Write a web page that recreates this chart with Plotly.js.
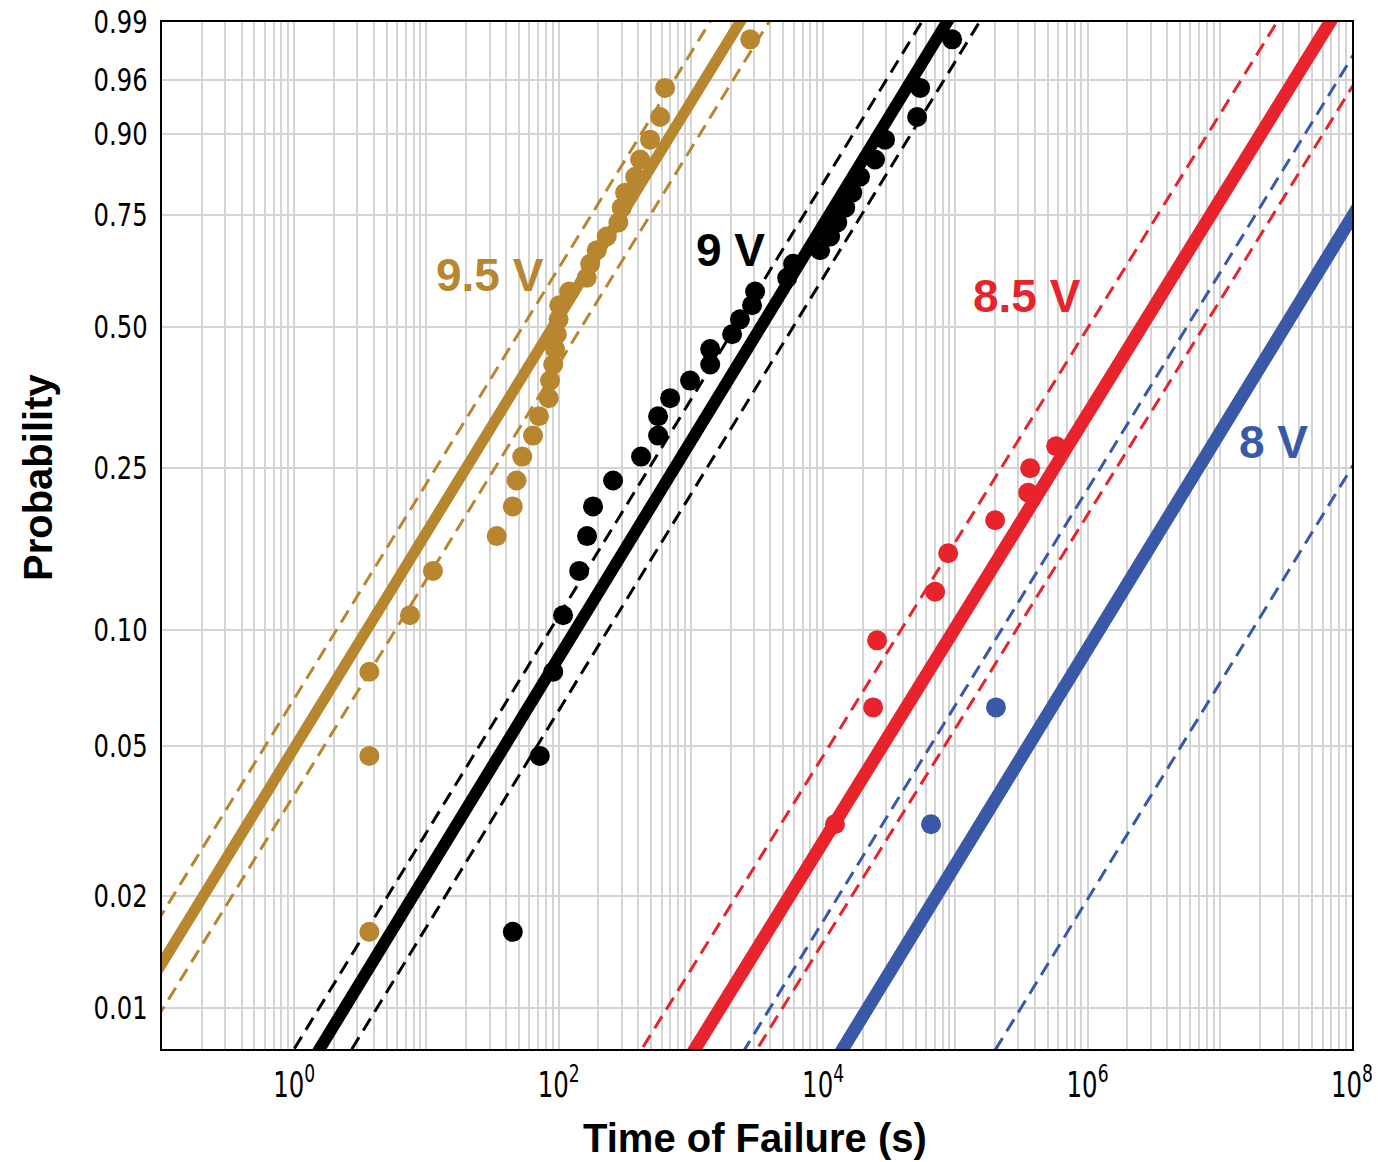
<!DOCTYPE html>
<html>
<head>
<meta charset="utf-8">
<script src="https://cdn.plot.ly/plotly-3.0.1.min.js"></script>
<style>
  html, body { margin: 0; padding: 0; background: #ffffff; }
  #chart { width: 1378px; height: 1162px; }
</style>
</head>
<body>
<div id="chart"></div>
<script>
// ---------------- DATA ----------------
const voltages = ['9.5 V', '9 V', '8.5 V', '8 V'];

// 9.5 V failures: time (s) and cumulative probability
const time95 = [3.7, 3.7, 3.7, 7.5, 11.2, 34, 45, 48, 53, 64, 71, 84, 86, 91, 94, 97,
                100, 101, 120, 163, 173, 194, 231, 283, 300, 318, 379, 413, 491, 585, 638, 2810];
const prob95 = [0.016, 0.047, 0.078, 0.109, 0.141, 0.172, 0.203, 0.234, 0.266, 0.297, 0.328, 0.359,
                0.391, 0.422, 0.453, 0.484, 0.516, 0.547, 0.578, 0.609, 0.641, 0.672, 0.703, 0.734,
                0.766, 0.797, 0.828, 0.859, 0.891, 0.922, 0.953, 0.984];

// 9 V failures
const time90 = [45, 72, 91, 108, 143, 164, 182, 258, 420, 565, 565, 697, 986, 1400, 1400, 2050,
                2350, 2900, 3060, 5350, 5930, 9490, 11300, 12800, 14700, 16600, 19000, 24700,
                29400, 51400, 54200, 94600];
const prob90 = [0.016, 0.047, 0.078, 0.109, 0.141, 0.172, 0.203, 0.234, 0.266, 0.297, 0.328, 0.359,
                0.391, 0.422, 0.453, 0.484, 0.516, 0.547, 0.578, 0.609, 0.641, 0.672, 0.703, 0.734,
                0.766, 0.797, 0.828, 0.859, 0.891, 0.922, 0.953, 0.984];

// 8.5 V failures
const time85 = [12300, 23900, 25600, 70400, 88300, 200000, 356000, 368000, 579000];
const prob85 = [0.031, 0.063, 0.094, 0.125, 0.156, 0.188, 0.219, 0.250, 0.281];

// 8 V failures
const time80 = [65500, 203000];
const prob80 = [0.031, 0.063];

// Weibull fits: shape (beta) and scale (eta, s); bounds share the shape
const fitShape     = [0.581, 0.584, 0.577, 0.583];
const fitScale     = [170, 6340, 4.84e6, 5.82e7];
const lowerScale   = [100.5, 4074, 1.92e6, 1.06e7];
const upperScale   = [280.5, 11140, 1.43e7, 8.38e8];

// Axis ticks
const timeTickVals   = [1, 1e2, 1e4, 1e6, 1e8];
const timeTickLabels = ['10<sup>0</sup>', '10<sup>2</sup>', '10<sup>4</sup>', '10<sup>6</sup>', '10<sup>8</sup>'];
const probTickVals   = [0.01, 0.02, 0.05, 0.10, 0.25, 0.50, 0.75, 0.90, 0.96, 0.99];
const probTickLabels = ['0.01', '0.02', '0.05', '0.10', '0.25', '0.50', '0.75', '0.90', '0.96', '0.99'];

// ---------------- STYLE ----------------
const seriesColors = ['#B8862F', '#000000', '#E8232B', '#3A58A8'];
const fitWidths = [11, 12, 13, 13];
const tickFont = 'Liberation Sans Narrow, DejaVu Sans Condensed, Liberation Sans, Arial, sans-serif';
const boldFont = 'Liberation Sans, Arial, Helvetica, sans-serif';
const gridColor = '#d4d4d4';

// ---------------- HELPERS ----------------
function weib(p) { return Math.log(-Math.log(1 - p)); }
function fitLine(beta, eta) {
  const t = [Math.pow(10, -1.3), Math.pow(10, 8.3)];
  return { x: t, y: t.map(v => beta * (Math.log(v) - Math.log(eta))) };
}

const times = [time95, time90, time85, time80];
const probs = [prob95, prob90, prob85, prob80];

const traces = [];
voltages.forEach((v, i) => {
  [lowerScale[i], upperScale[i]].forEach(eta => {
    const l = fitLine(fitShape[i], eta);
    traces.push({
      type: 'scatter', mode: 'lines', x: l.x, y: l.y, name: v + ' bound',
      line: { color: seriesColors[i], width: 3, dash: '14px,8px' },
      hoverinfo: 'skip', showlegend: false
    });
  });
  const f = fitLine(fitShape[i], fitScale[i]);
  traces.push({
    type: 'scatter', mode: 'lines', x: f.x, y: f.y, name: v + ' fit',
    line: { color: seriesColors[i], width: fitWidths[i] },
    hoverinfo: 'skip', showlegend: false
  });
});
voltages.forEach((v, i) => {
  traces.push({
    type: 'scatter', mode: 'markers', x: times[i], y: probs[i].map(weib), name: v,
    marker: { color: seriesColors[i], size: 20, line: { width: 0 } },
    showlegend: false
  });
});

// minor grid positions on the log time axis: every 1..9 x 10^k that is not a labelled tick
const minorGrid = [];
for (let k = -1; k <= 7; k++) {
  for (let m = 1; m <= 9; m++) {
    const val = m * Math.pow(10, k);
    const isMajor = timeTickVals.some(tv => Math.abs(tv - val) / tv < 1e-9);
    if (!isMajor) minorGrid.push(val);
  }
}

const labelFont = (c) => ({ family: boldFont, size: 46, color: c, weight: 'bold' });

const layout = {
  width: 1378, height: 1162,
  margin: { l: 162, r: 26, t: 22, b: 113, pad: 0 },
  paper_bgcolor: '#ffffff', plot_bgcolor: '#ffffff',
  showlegend: false,
  xaxis: {
    type: 'log', range: [-1, 8.0002],
    tickmode: 'array', tickvals: timeTickVals, ticktext: timeTickLabels,
    showgrid: true, gridcolor: gridColor, gridwidth: 2,
    minor: { tickmode: 'array', tickvals: minorGrid, showgrid: true,
             gridcolor: gridColor, gridwidth: 2, ticks: '' },
    ticks: '', showline: true, linecolor: '#000000', linewidth: 2, mirror: true,
    zeroline: false, ticklabeloverflow: 'allow',
    tickfont: { family: tickFont, size: 35, color: '#000000' },
    ticklabelstandoff: 4
  },
  yaxis: {
    type: 'linear', range: [-4.855, weib(0.99)],
    tickmode: 'array', tickvals: probTickVals.map(weib), ticktext: probTickLabels,
    showgrid: true, gridcolor: gridColor, gridwidth: 2,
    ticks: '', showline: true, linecolor: '#000000', linewidth: 2, mirror: true,
    zeroline: false, ticklabeloverflow: 'allow',
    tickfont: { family: tickFont, size: 32, color: '#000000' },
    ticklabelstandoff: 6
  },
  annotations: [
    { xref: 'paper', yref: 'paper', x: 0.498, y: -0.0867, xanchor: 'center', yanchor: 'middle',
      text: 'Time of Failure (s)', showarrow: false,
      font: { family: boldFont, size: 40, color: '#000000', weight: 'bold' } },
    { xref: 'paper', yref: 'paper', x: -0.1042, y: 0.556, xanchor: 'center', yanchor: 'middle',
      text: 'Probability', textangle: -90, showarrow: false,
      font: { family: boldFont, size: 40, color: '#000000', weight: 'bold' } },
    { xref: 'x', yref: 'y', x: 1.481, y: -0.045, text: voltages[0], showarrow: false,
      xanchor: 'center', yanchor: 'middle', font: labelFont(seriesColors[0]) },
    { xref: 'x', yref: 'y', x: 3.302, y: 0.110, text: voltages[1], showarrow: false,
      xanchor: 'center', yanchor: 'middle', font: labelFont(seriesColors[1]) },
    { xref: 'x', yref: 'y', x: 5.542, y: -0.176, text: voltages[2], showarrow: false,
      xanchor: 'center', yanchor: 'middle', font: labelFont(seriesColors[2]) },
    { xref: 'x', yref: 'y', x: 7.405, y: -1.083, text: voltages[3], showarrow: false,
      xanchor: 'center', yanchor: 'middle', font: labelFont(seriesColors[3]) }
  ]
};

// condense the tick labels to match the narrow face of the original
function condense(gd, selector, targetWidth) {
  gd.querySelectorAll(selector).forEach(t => {
    const w = t.getComputedTextLength();
    if (w > targetWidth) {
      t.setAttribute('textLength', targetWidth.toFixed(1));
      t.setAttribute('lengthAdjust', 'spacingAndGlyphs');
    }
  });
}

Plotly.newPlot('chart', traces, layout, { displayModeBar: false, staticPlot: true }).then(gd => {
  condense(gd, '.ytick text', 54);
  condense(gd, '.xtick text', 42);
});
</script>
</body>
</html>
